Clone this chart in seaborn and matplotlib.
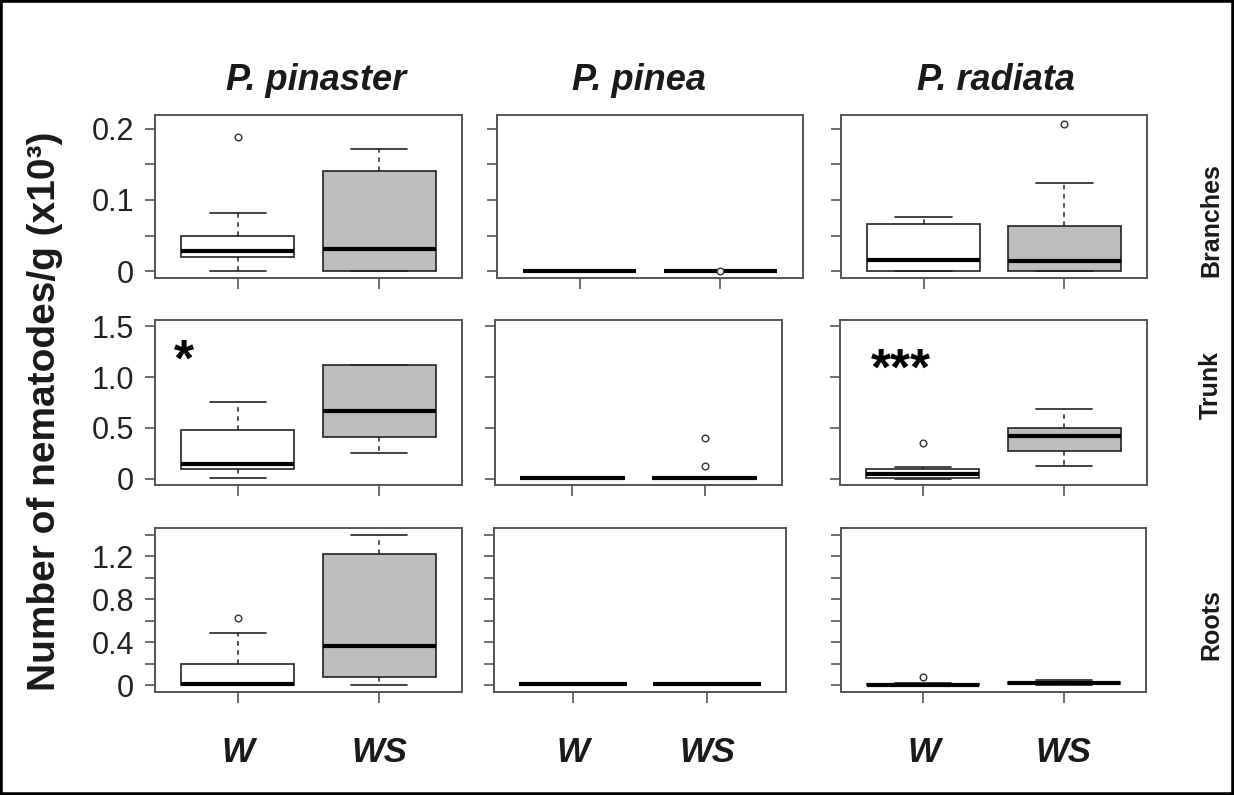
import numpy as np
import pandas as pd
import matplotlib
matplotlib.use("Agg")
import matplotlib.pyplot as plt
import seaborn as sns
from matplotlib.patches import Rectangle

# ---------------- data ----------------
species = ["P. pinaster", "P. pinea", "P. radiata"]
tissues = ["Branches", "Trunk", "Roots"]
treatments = ["W", "WS"]

# order of every stats list: pinaster W, pinaster WS, pinea W, pinea WS, radiata W, radiata WS
branches_low = [0.001, 0.000, 0.0, 0.0, 0.000, 0.000]
branches_q1 = [0.020, 0.001, 0.0, 0.0, 0.001, 0.001]
branches_med = [0.029, 0.031, 0.0, 0.0, 0.016, 0.014]
branches_q3 = [0.050, 0.140, 0.0, 0.0, 0.066, 0.064]
branches_high = [0.082, 0.172, 0.0, 0.0, 0.076, 0.124]
branches_fliers = [[0.188], [], [], [0.001], [], [0.207]]

trunk_low = [0.007, 0.255, 0.01, 0.01, 0.000, 0.128]
trunk_q1 = [0.098, 0.406, 0.01, 0.01, 0.004, 0.273]
trunk_med = [0.144, 0.670, 0.01, 0.01, 0.043, 0.424]
trunk_q3 = [0.480, 1.115, 0.01, 0.01, 0.096, 0.500]
trunk_high = [0.752, 1.115, 0.01, 0.01, 0.115, 0.688]
trunk_fliers = [[], [], [], [0.40, 0.13], [0.349], []]

roots_low = [0.000, 0.000, 0.01, 0.01, 0.000, 0.000]
roots_q1 = [0.000, 0.070, 0.01, 0.01, 0.000, 0.005]
roots_med = [0.012, 0.367, 0.01, 0.01, 0.003, 0.015]
roots_q3 = [0.191, 1.216, 0.01, 0.01, 0.008, 0.025]
roots_high = [0.487, 1.398, 0.01, 0.01, 0.019, 0.047]
roots_fliers = [[0.626], [], [], [], [0.078], []]

branches_ticks = [0, 0.05, 0.1, 0.15, 0.2]
branches_ticklabels = ["0", "", "0.1", "", "0.2"]
trunk_ticks = [0, 0.5, 1.0, 1.5]
trunk_ticklabels = ["0", "0.5", "1.0", "1.5"]
roots_ticks = [0, 0.2, 0.4, 0.6, 0.8, 1.0, 1.2, 1.4]
roots_ticklabels = ["0", "", "0.4", "", "0.8", "", "1.2", ""]

significance = {("Trunk", "P. pinaster"): "*", ("Trunk", "P. radiata"): "***"}

# ---------------- build long tables for seaborn ----------------
stats = {
    "Branches": (branches_low, branches_q1, branches_med, branches_q3, branches_high, branches_fliers),
    "Trunk": (trunk_low, trunk_q1, trunk_med, trunk_q3, trunk_high, trunk_fliers),
    "Roots": (roots_low, roots_q1, roots_med, roots_q3, roots_high, roots_fliers),
}
ticks = {
    "Branches": (branches_ticks, branches_ticklabels),
    "Trunk": (trunk_ticks, trunk_ticklabels),
    "Roots": (roots_ticks, roots_ticklabels),
}

rows, flier_rows = [], []
for tissue in tissues:
    lo, q1, med, q3, hi, fl = stats[tissue]
    for k in range(6):
        sp = species[k // 2]
        tr = treatments[k % 2]
        # observations reproducing the five-number summary
        obs = [lo[k]] + [q1[k]] * 10 + [med[k]] * 10 + [q3[k]] * 10 + [hi[k]]
        for v in obs:
            rows.append((tissue, sp, tr, v))
        for v in fl[k]:
            flier_rows.append((tissue, sp, tr, v))
df = pd.DataFrame(rows, columns=["tissue", "species", "treatment", "value"])
df_fl = pd.DataFrame(flier_rows, columns=["tissue", "species", "treatment", "value"])

# ---------------- figure ----------------
sns.set_style("white")
plt.rcParams["font.family"] = ["Liberation Sans", "DejaVu Sans"]

W, H = 1234, 795
fig = plt.figure(figsize=(W / 100, H / 100), dpi=100)
fig.patch.set_facecolor("white")

row_px = {"Branches": (115, 278), "Trunk": (320, 485), "Roots": (528, 692)}
col_px = {
    ("Branches", 0): (155, 462), ("Trunk", 0): (155, 462), ("Roots", 0): (155, 462),
    ("Branches", 1): (497, 803), ("Trunk", 1): (495, 782), ("Roots", 1): (494, 786),
    ("Branches", 2): (841, 1147), ("Trunk", 2): (840, 1147), ("Roots", 2): (841, 1146),
}
ylims = {"Branches": (-0.0094, 0.2192), "Trunk": (-0.062, 1.563), "Roots": (-0.065, 1.461)}

palette = {"W": "white", "WS": "#BEBEBE"}
edge = "#222222"
spine_col = "#555555"

for i, tissue in enumerate(tissues):
    t, b = row_px[tissue]
    for j, sp in enumerate(species):
        l, r = col_px[(tissue, j)]
        ax = fig.add_axes([l / W, 1 - b / H, (r - l) / W, (b - t) / H])
        sub = df[(df.tissue == tissue) & (df.species == sp)]
        subf = df_fl[(df_fl.tissue == tissue) & (df_fl.species == sp)]
        if len(subf):
            sns.stripplot(
                data=subf, x="treatment", y="value", order=treatments, jitter=False,
                color="white", edgecolor="#333333", linewidth=1.0, size=4.8, ax=ax,
            )
        sns.boxplot(
            data=sub, x="treatment", y="value", hue="treatment", order=treatments,
            hue_order=treatments, palette=palette, legend=False, ax=ax,
            width=0.8, whis=(0, 100), showfliers=False, linecolor=edge, linewidth=1.2,
            medianprops={"color": "black", "linewidth": 3.0},
            whiskerprops={"linestyle": (0, (3, 3)), "color": edge, "linewidth": 1.1},
            capprops={"color": edge, "linewidth": 1.2},
        )
        ax.set_xlim(-0.587, 1.587)
        ax.set_ylim(*ylims[tissue])
        tk, tl = ticks[tissue]
        ax.set_yticks(tk)
        if j == 0:
            ax.set_yticklabels(tl, fontsize=22, color="#222222")
        else:
            ax.set_yticklabels([""] * len(tk))
        ax.set_xticks([0, 1])
        if i == 2:
            ax.set_xticklabels(treatments, fontsize=25, fontweight="bold",
                               fontstyle="italic", color="#1a1a1a")
        else:
            ax.set_xticklabels(["", ""])
        ax.tick_params(axis="y", left=True, direction="out", length=7, width=1.2,
                       color=spine_col, pad=8)
        ax.tick_params(axis="x", bottom=True, direction="out", length=8, width=1.2,
                       color=spine_col, pad=24)
        ax.set_xlabel("")
        ax.set_ylabel("")
        for s in ax.spines.values():
            s.set_visible(True)
            s.set_color(spine_col)
            s.set_linewidth(1.4)
        key = (tissue, sp)
        if key in significance:
            xs = -0.381 if sp == "P. pinaster" else -0.155
            ys = 1.26 if sp == "P. pinaster" else 1.175
            ax.annotate(significance[key], xy=(xs, ys), xytext=(0, -18),
                        textcoords="offset points", ha="center", va="baseline",
                        fontsize=37, fontweight="bold", color="black")

# column titles
for x, sp in zip([316, 639, 996], species):
    fig.text(x / W, 1 - 90 / H, sp, ha="center", va="baseline", fontsize=26,
             fontweight="bold", fontstyle="italic", color="#1a1a1a")

# row labels
for y, tissue in zip([220, 385, 625], tissues):
    fig.text(1211 / W, 1 - y / H, tissue, ha="center", va="center", rotation=90,
             fontsize=18, fontweight="bold", color="#1a1a1a")

# y label
fig.text(45 / W, 1 - 411 / H, "Number of nematodes/g (x10³)", ha="center", va="center",
         rotation=90, fontsize=28, fontweight="bold", color="#1a1a1a")

fig.add_artist(Rectangle((0, 0), 1, 1, transform=fig.transFigure, fill=False,
                         lw=4, ec="black"))

fig.savefig("out.png", dpi=100)
